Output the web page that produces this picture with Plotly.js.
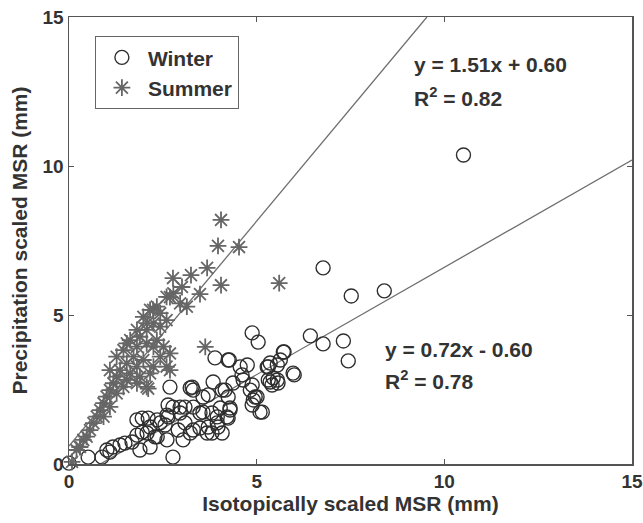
<!DOCTYPE html>
<html>
<head>
<meta charset="utf-8">
<script src="https://cdn.plot.ly/plotly-3.0.1.min.js"></script>
<style>html,body{margin:0;padding:0;background:#fff;}#chart{width:643px;height:523px;}</style>
</head>
<body>
<div id="chart"></div>
<script>
// Winter (open circles)
const winterX = [10.51,6.77,8.40,7.52,6.43,6.77,7.31,7.44,4.88,5.04,5.73,5.55,5.63,6.0,5.31,5.36,5.57,3.89,4.24,4.56,4.75,4.61,4.88,4.96,5.15,4.88,3.84,3.31,3.71,4.08,4.24,4.29,4.21,3.95,3.97,3.68,3.31,3.09,3.09,3.31,3.49,4.27,3.57,4.16,4.37,4.64,4.83,4.91,5.01,2.77,2.61,2.96,3.57,3.81,4.03,4.29,4.24,3.95,3.71,3.49,3.23,2.91,2.56,2.35,2.29,2.61,3.04,3.81,4.08,2.77,5.28,5.31,5.55,5.41,0.0,0.51,0.88,1.09,1.17,1.36,1.49,1.68,1.81,1.95,2.08,1.81,1.95,2.11,2.16,1.89,2.16,2.35,2.43,2.64,2.64,2.96,3.23,2.69,3.28,5.36,5.71,5.97,5.44,5.09,1.01];
const winterY = [10.37,6.58,5.81,5.64,4.30,4.03,4.13,3.46,4.40,4.09,3.76,3.32,3.49,2.99,3.26,2.75,2.72,3.56,3.49,3.26,3.32,2.99,2.65,2.25,1.74,1.98,2.75,2.48,2.32,2.48,2.25,1.88,1.58,1.58,1.24,1.04,1.14,1.38,1.91,1.91,1.71,3.49,2.25,2.48,2.72,2.82,2.48,2.15,2.25,1.91,1.64,1.71,1.74,1.71,1.88,1.81,1.54,1.38,1.24,1.21,1.04,1.14,1.31,1.48,0.91,0.81,0.81,1.04,1.04,0.23,3.26,2.82,2.82,2.65,0.03,0.23,0.23,0.40,0.57,0.64,0.70,0.74,0.97,1.07,1.04,1.48,1.54,1.54,1.24,0.47,0.57,0.91,1.38,1.98,1.58,1.91,2.55,2.58,2.58,3.39,3.76,3.05,2.89,1.74,0.47];

// Summer (asterisks)
const summerX = [4.05,3.97,4.53,3.68,4.05,2.77,3.25,3.01,3.49,5.60,3.63,2.78,2.96,3.14,2.60,2.34,2.16,1.98,2.25,2.43,2.07,1.89,1.63,1.54,1.81,2.07,2.34,2.52,2.69,2.60,2.25,1.98,1.72,1.54,1.36,1.27,1.18,1.09,1.00,0.92,0.83,0.74,0.65,0.56,0.47,0.38,0.29,0.20,1.54,1.81,2.07,1.45,1.27,1.09,0.92,1.63,1.89,2.16,1.81,2.11,2.69,0.29,0.08,2.69,2.24,2.08,2.43,2.60,1.81,1.45,1.27,1.09,2.25,2.43];
const summerY = [8.19,7.32,7.28,6.58,6.00,6.24,6.34,5.94,5.70,6.07,3.93,5.73,5.39,5.28,5.61,5.28,5.17,4.94,4.72,4.61,4.50,4.27,4.16,4.05,3.94,4.05,4.16,3.94,3.71,3.27,3.27,3.49,3.60,3.38,3.15,2.93,2.71,2.48,2.26,2.04,1.81,1.59,1.37,1.14,0.92,0.81,0.58,0.47,2.82,2.71,2.59,2.59,2.37,1.92,1.59,3.04,2.93,3.04,3.27,2.53,3.15,0.57,0.07,5.60,5.17,4.73,5.06,4.83,4.50,3.82,3.60,3.15,3.94,3.60];

// Fitted lines
const summerSlope = 1.51, summerIntercept = 0.60;
const winterSlope = 0.72, winterIntercept = -0.60;
const summerFitX = [0, (15 - summerIntercept) / summerSlope];
const winterFitX = [-winterIntercept / winterSlope, 15];

const tickVals = [0, 5, 10, 15];
const tickText = ['0', '5', '10', '15'];

const font = 'Liberation Sans, Arial, Helvetica, sans-serif';
const txt = (size) => ({family: font, size: size, color: '#333', weight: 'bold'});

const traces = [
  {x: summerFitX, y: summerFitX.map(v => summerSlope * v + summerIntercept), mode: 'lines',
   line: {color: '#6e6e6e', width: 1.3}, showlegend: false, hoverinfo: 'skip'},
  {x: winterFitX, y: winterFitX.map(v => winterSlope * v + winterIntercept), mode: 'lines',
   line: {color: '#6e6e6e', width: 1.3}, showlegend: false, hoverinfo: 'skip'},
  {x: winterX, y: winterY, mode: 'markers', name: 'Winter', cliponaxis: false,
   marker: {symbol: 'circle-open', size: 14, color: '#2e2e2e', line: {width: 1.4}}},
  {x: summerX, y: summerY, mode: 'markers', name: 'Summer', cliponaxis: false,
   marker: {symbol: 'asterisk-open', size: 14, color: '#666666', line: {width: 1.8, color: '#666666'}}}
];

const axisCommon = {
  range: [0, 15], tickvals: tickVals, ticktext: tickText,
  showgrid: false, zeroline: false, showline: true, mirror: 'ticks',
  linecolor: '#555', linewidth: 1.5, ticks: 'inside', ticklen: 5, tickcolor: '#555',
  tickfont: txt(19)
};

const layout = {
  width: 643, height: 523,
  margin: {l: 69, r: 11, t: 17, b: 59},
  paper_bgcolor: '#fff', plot_bgcolor: '#fff',
  font: {family: font, color: '#333'},
  xaxis: Object.assign({}, axisCommon, {
    title: {text: 'Isotopically scaled MSR (mm)', standoff: 3, font: txt(21)}
  }),
  yaxis: Object.assign({}, axisCommon, {
    title: {text: 'Precipitation scaled MSR (mm)', standoff: 9, font: txt(21)}
  }),
  legend: {x: 0.046, y: 0.957, xanchor: 'left', yanchor: 'top',
           bordercolor: '#666', borderwidth: 1, bgcolor: '#fff',
           font: txt(21), itemwidth: 42, tracegroupgap: 0},
  annotations: [
    {x: 9.15, y: 13.39, xref: 'x', yref: 'y', xanchor: 'left', yanchor: 'middle', showarrow: false,
     text: 'y = 1.51x + 0.60', font: txt(21)},
    {x: 9.15, y: 12.32, xref: 'x', yref: 'y', xanchor: 'left', yanchor: 'middle', showarrow: false,
     text: 'R<sup>2</sup> = 0.82', font: txt(21)},
    {x: 8.37, y: 3.83, xref: 'x', yref: 'y', xanchor: 'left', yanchor: 'middle', showarrow: false,
     text: 'y = 0.72x - 0.60', font: txt(21)},
    {x: 8.37, y: 2.82, xref: 'x', yref: 'y', xanchor: 'left', yanchor: 'middle', showarrow: false,
     text: 'R<sup>2</sup> = 0.78', font: txt(21)}
  ]
};

Plotly.newPlot('chart', traces, layout, {displayModeBar: false, staticPlot: true});
</script>
</body>
</html>
